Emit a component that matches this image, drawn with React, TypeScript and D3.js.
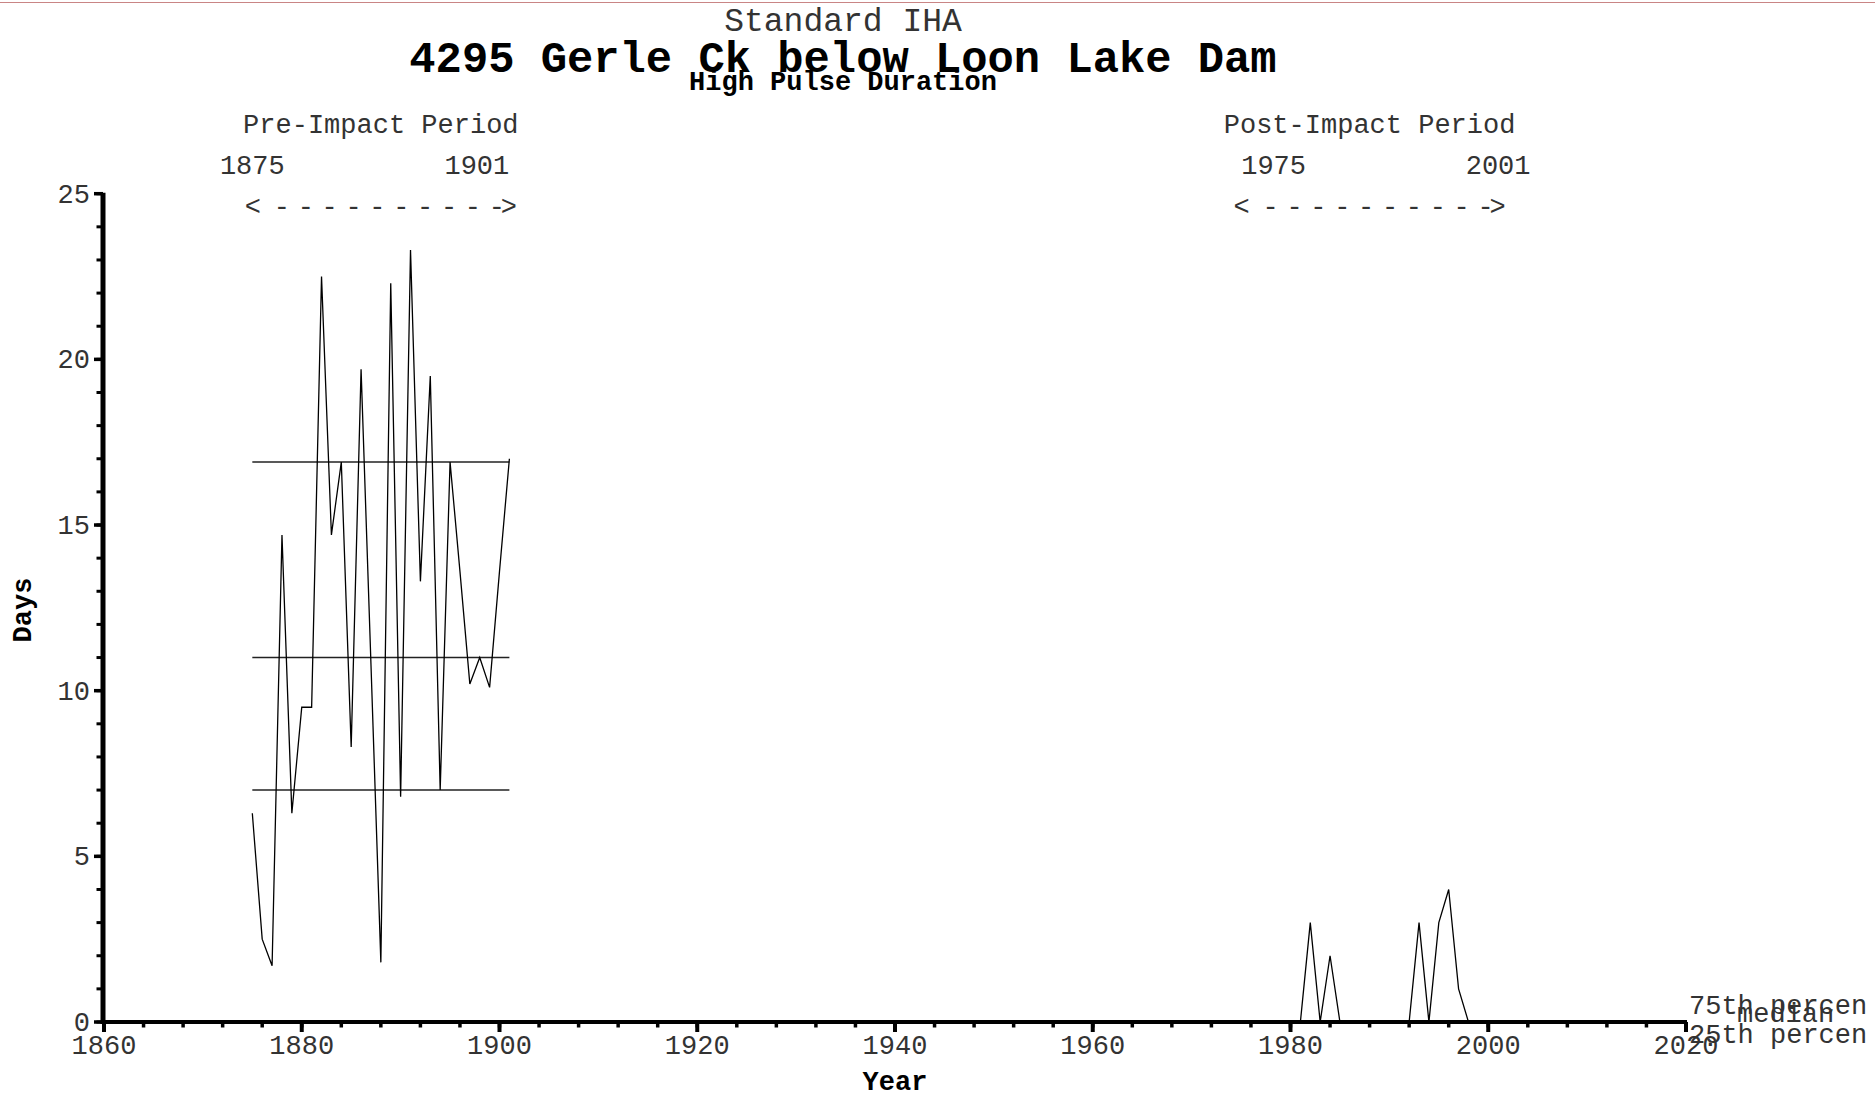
import React from "react";
import * as d3 from "d3";

// High pulse duration (days) per water year
const preYears = d3.range(1875, 1902);
const preDays = [
  6.3, 2.5, 1.7, 14.7, 6.3, 9.5, 9.5, 22.5, 14.7, 16.9, 8.3, 19.7, 10.8, 1.8,
  22.3, 6.8, 23.3, 13.3, 19.5, 7.0, 16.9, 13.6, 10.2, 11.0, 10.1, 13.6, 17.0,
];
const postYears = d3.range(1975, 2002);
const postDays = [
  0, 0, 0, 0, 0, 0, 0, 3, 0, 2, 0, 0, 0, 0, 0, 0, 0, 0, 3, 0, 3, 4, 1, 0, 0, 0, 0,
];
// 25th percentile, median, 75th percentile of each period
const prePercentiles = [7, 11, 16.9];
const postPercentiles = [0, 0, 0];

const xMajorTicks = d3.range(1860, 2021, 20);
const xMinorTicks = d3.range(1860, 2021, 4);
const yMajorTicks = d3.range(0, 26, 5);
const yMinorTicks = d3.range(0, 26, 1);

const W = 1875;
const H = 1099;
const MONO = "'Courier New', 'Liberation Mono', monospace";
const INK = "#000";
const SOFT = "#333";

// "<---------->" span marker: glyphs laid out across the period width
function SpanArrow({ cx, half }: { cx: number; half: number }) {
  const left = cx - half;
  const right = cx + half;
  const firstDash = left + 37;
  const lastDash = right - 20;
  const dashes = d3.range(10).map((k) => firstDash + (k * (lastDash - firstDash)) / 9);
  return (
    <g fontSize={27} fill={SOFT}>
      <text x={left + 8} y={215} textAnchor="middle">
        {"<"}
      </text>
      {dashes.map((dx, k) => (
        <text key={k} x={dx} y={215} textAnchor="middle">
          -
        </text>
      ))}
      <text x={right - 8} y={215} textAnchor="middle">
        {">"}
      </text>
    </g>
  );
}

export default function App() {
  const x = d3.scaleLinear().domain([1860, 2020]).range([104, 1686]);
  const y = d3.scaleLinear().domain([0, 25]).range([1022, 193.7]);

  const line = d3
    .line<[number, number]>()
    .x((d) => x(d[0]))
    .y((d) => y(d[1]));

  const prePts = preYears.map((yr, i) => [yr, preDays[i]] as [number, number]);
  const postPts = postYears.map((yr, i) => [yr, postDays[i]] as [number, number]);

  const preMid = (x(1875) + x(1901)) / 2;
  const postMid = (x(1975) + x(2001)) / 2;

  const y0 = y(0);
  const xAxisLeft = x(1860);

  return (
    <svg
      width={W}
      height={H}
      viewBox={`0 0 ${W} ${H}`}
      style={{ position: "absolute", left: 0, top: 0, background: "#fff" }}
      fontFamily={MONO}
    >
      <rect x={0} y={0} width={W} height={H} fill="#fff" />
      <line x1={0} x2={W} y1={2.5} y2={2.5} stroke="#c98585" strokeWidth={1.2} />

      {/* titles */}
      <text x={843} y={31} textAnchor="middle" fontSize={33} fill={SOFT}>
        Standard IHA
      </text>
      <text x={843} y={72} textAnchor="middle" fontSize={43.8} fontWeight="bold" fill={INK}>
        4295 Gerle Ck below Loon Lake Dam
      </text>
      <text x={843} y={89.5} textAnchor="middle" fontSize={27} fontWeight="bold" fill={INK}>
        High Pulse Duration
      </text>

      {/* period headers */}
      <text x={preMid} y={133} textAnchor="middle" fontSize={27} fill={SOFT}>
        Pre-Impact Period
      </text>
      <text x={x(1875)} y={174} textAnchor="middle" fontSize={27} fill={SOFT}>
        1875
      </text>
      <text x={preMid + 96} y={174} textAnchor="middle" fontSize={27} fill={SOFT}>
        1901
      </text>
      <SpanArrow cx={preMid} half={136} />

      <text x={postMid} y={133} textAnchor="middle" fontSize={27} fill={SOFT}>
        Post-Impact Period
      </text>
      <text x={postMid - 96} y={174} textAnchor="middle" fontSize={27} fill={SOFT}>
        1975
      </text>
      <text x={x(2001)} y={174} textAnchor="middle" fontSize={27} fill={SOFT}>
        2001
      </text>
      <SpanArrow cx={postMid} half={136} />

      {/* percentile lines */}
      {prePercentiles.map((v, i) => (
        <line
          key={`pre-${i}`}
          x1={x(1875)}
          x2={x(1901)}
          y1={y(v)}
          y2={y(v)}
          stroke="#222"
          strokeWidth={1.5}
        />
      ))}
      {postPercentiles.map((v, i) => (
        <line
          key={`post-${i}`}
          x1={x(1975)}
          x2={x(2001)}
          y1={y(v)}
          y2={y(v)}
          stroke="#222"
          strokeWidth={1.5}
        />
      ))}

      {/* series */}
      <path d={line(prePts) || ""} fill="none" stroke={INK} strokeWidth={1.3} />
      <path d={line(postPts) || ""} fill="none" stroke={INK} strokeWidth={1.3} />

      {/* y axis */}
      <line x1={103} x2={103} y1={y(25) - 1} y2={y0 + 2} stroke={INK} strokeWidth={5} />
      {yMinorTicks.map((t) => (
        <line key={`ym-${t}`} x1={96.5} x2={103} y1={y(t)} y2={y(t)} stroke={INK} strokeWidth={3} />
      ))}
      {yMajorTicks.map((t) => (
        <g key={`yM-${t}`}>
          <line x1={94} x2={103} y1={y(t)} y2={y(t)} stroke={INK} strokeWidth={3.5} />
          <text x={90} y={y(t) + 9} textAnchor="end" fontSize={27} fill={SOFT}>
            {t}
          </text>
        </g>
      ))}
      <text
        transform={`translate(31, 610) rotate(-90)`}
        textAnchor="middle"
        fontSize={27}
        fontWeight="bold"
        fill={INK}
      >
        Days
      </text>

      {/* x axis */}
      <line x1={xAxisLeft - 2} x2={x(2020) + 1} y1={y0} y2={y0} stroke={INK} strokeWidth={4} />
      {xMinorTicks.map((t) => (
        <line key={`xm-${t}`} x1={x(t)} x2={x(t)} y1={y0} y2={y0 + 5.5} stroke={INK} strokeWidth={3.5} />
      ))}
      {xMajorTicks.map((t) => (
        <g key={`xM-${t}`}>
          <line x1={x(t)} x2={x(t)} y1={y0} y2={y0 + 10} stroke={INK} strokeWidth={4} />
          <text x={x(t)} y={1054} textAnchor="middle" fontSize={27} fill={SOFT}>
            {t}
          </text>
        </g>
      ))}
      <text x={(x(1860) + x(2020)) / 2} y={1090} textAnchor="middle" fontSize={27} fontWeight="bold" fill={INK}>
        Year
      </text>

      {/* percentile labels */}
      <text x={1689} y={y0 - 8} fontSize={27} fill={SOFT}>
        75th percen
      </text>
      <text x={1737} y={y0} fontSize={27} fill={SOFT}>
        median
      </text>
      <text x={1689} y={y0 + 21} fontSize={27} fill={SOFT}>
        25th percen
      </text>
    </svg>
  );
}
